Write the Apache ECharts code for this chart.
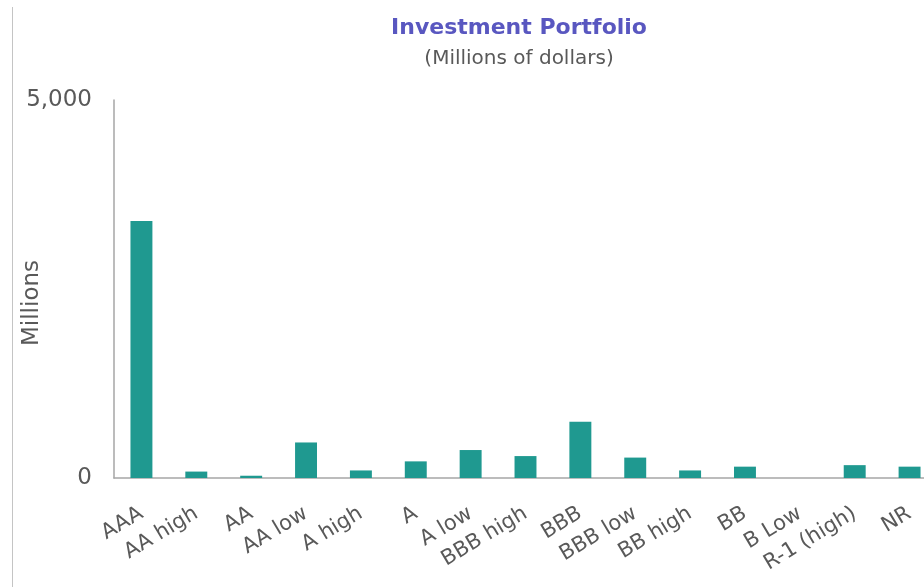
<!DOCTYPE html>
<html>
<head>
<meta charset="utf-8">
<script src="https://cdn.jsdelivr.net/npm/echarts@6/dist/echarts.min.js"></script>
<style>
  html, body { margin: 0; padding: 0; background: #ffffff; }
  #chart { width: 924px; height: 587px; }
</style>
</head>
<body>
<div id="chart"></div>
<script>
const categories = ["AAA", "AA high", "AA", "AA low", "A high", "A", "A low", "BBB high", "BBB", "BBB low", "BB high", "BB", "B Low", "R-1 (high)", "NR"];
const holdings = [3400, 85, 30, 470, 100, 220, 370, 290, 745, 270, 100, 150, 0, 170, 150];
const yTicks = [0, 5000];

const chart = echarts.init(document.getElementById('chart'));
chart.setOption({
  animation: false,
  backgroundColor: '#ffffff',
  title: {
    text: 'Investment Portfolio',
    subtext: '(Millions of dollars)',
    left: 514,
    textAlign: 'center',
    top: 12,
    itemGap: 10,
    textStyle: { fontFamily: 'DejaVu Sans', fontSize: 22, fontWeight: 'bold', color: '#5957c0' },
    subtextStyle: { fontFamily: 'DejaVu Sans', fontSize: 20, color: '#595959' }
  },
  graphic: [{
    type: 'line',
    shape: { x1: 12.5, y1: 7, x2: 12.5, y2: 587 },
    style: { stroke: '#c4c4c4', lineWidth: 1 }
  }],
  grid: { left: 114, right: -13, top: 100, bottom: 109, containLabel: false, outerBoundsMode: 'none' },
  xAxis: {
    type: 'category',
    data: categories,
    axisLine: { show: true, lineStyle: { color: '#a6a6a6', width: 1.5 } },
    axisTick: { show: false },
    axisLabel: {
      interval: 0,
      rotate: 31,
      margin: 34,
      fontFamily: 'DejaVu Sans',
      fontSize: 21,
      color: '#595959'
    }
  },
  yAxis: {
    type: 'value',
    min: yTicks[0],
    max: yTicks[yTicks.length - 1],
    interval: yTicks[1] - yTicks[0],
    name: 'Millions',
    nameLocation: 'middle',
    nameGap: 70,
    nameRotate: 90,
    nameMoveOverlap: false,
    nameTextStyle: { fontFamily: 'DejaVu Sans', fontSize: 23, color: '#595959', padding: [0, 28, 0, 0] },
    axisLine: { show: true, lineStyle: { color: '#a6a6a6', width: 1.5 } },
    axisTick: { show: false },
    splitLine: { show: false },
    axisLabel: {
      margin: 22,
      fontFamily: 'DejaVu Sans',
      fontSize: 23,
      color: '#595959',
      formatter: v => v.toLocaleString('en-US')
    }
  },
  series: [{
    type: 'bar',
    data: holdings,
    barWidth: '40%',
    itemStyle: { color: '#1f9990' }
  }]
});
</script>
</body>
</html>
